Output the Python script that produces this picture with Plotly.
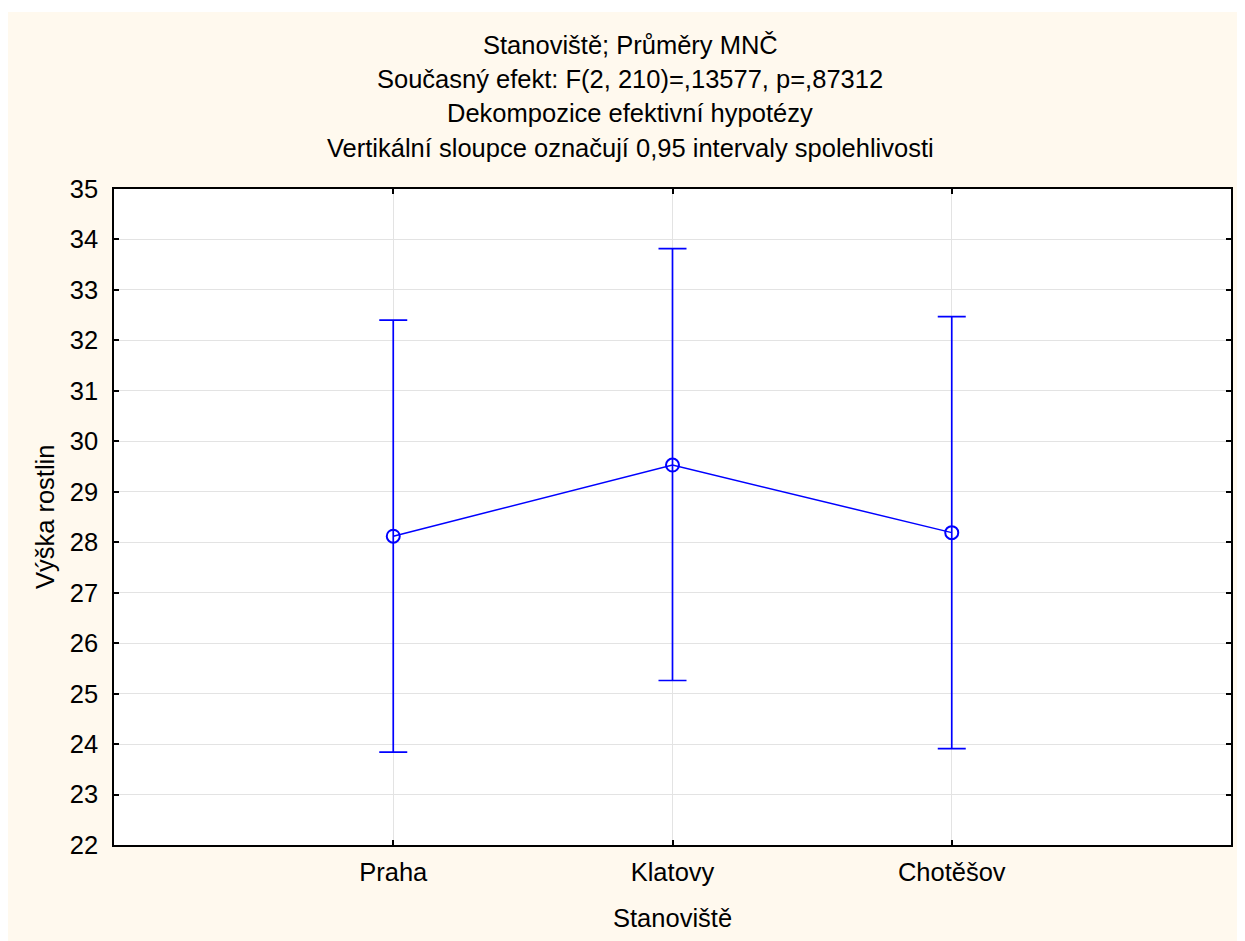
import plotly.graph_objects as go

categories = ["Praha", "Klatovy", "Chotěšov"]
means = [28.12, 29.53, 28.19]
upper = [32.40, 33.82, 32.47]
lower = [23.84, 25.26, 23.91]
y_ticks = list(range(22, 36))

title_lines = [
    "Stanoviště; Průměry MNČ",
    "Současný efekt: F(2, 210)=,13577, p=,87312",
    "Dekompozice efektivní hypotézy",
    "Vertikální sloupce označují 0,95 intervaly spolehlivosti",
]
x_title = "Stanoviště"
y_title = "Výška rostlin"

# figure coordinates (page is offset by the 8px body margin)
W, H = 1237, 933
L, R, T, B = 106, 12, 181, 96
pw, ph = W - L - R, H - T - B

BLUE = "#0000FF"
CREAM = "#FFF9EE"
FONT = "Liberation Sans, Arial, sans-serif"
FS = 25.5

fig = go.Figure()
fig.add_trace(go.Scatter(
    x=categories, y=means, mode="lines+markers",
    line=dict(color=BLUE, width=1.5),
    marker=dict(symbol="circle-open", size=13, color=BLUE, line=dict(width=2, color=BLUE)),
    error_y=dict(type="data", symmetric=False,
                 array=[u - m for u, m in zip(upper, means)],
                 arrayminus=[m - l for m, l in zip(means, lower)],
                 color=BLUE, thickness=1.7, width=14),
    showlegend=False,
))

def px_to_paper_x(px):
    return (px - L) / pw

def py_to_paper_y(py):
    return 1 - (py - T) / ph

# thin white strip above the cream panel
fig.add_shape(type="rect", xref="paper", yref="paper", layer="below",
              x0=px_to_paper_x(-5), x1=px_to_paper_x(W + 5), y0=py_to_paper_y(4), y1=py_to_paper_y(-5),
              fillcolor="white", line=dict(width=0))

title_y = [37, 71, 105, 140]
for txt, yy in zip(title_lines, title_y):
    fig.add_annotation(text=txt, xref="paper", yref="paper",
                       x=px_to_paper_x(623), y=py_to_paper_y(yy),
                       xanchor="center", yanchor="middle", showarrow=False,
                       font=dict(family=FONT, size=FS, color="black"))

fig.add_annotation(text=x_title, xref="paper", yref="paper",
                   x=px_to_paper_x(665), y=py_to_paper_y(910),
                   xanchor="center", yanchor="middle", showarrow=False,
                   font=dict(family=FONT, size=FS, color="black"))
fig.add_annotation(text=y_title, xref="paper", yref="paper", textangle=-90,
                   x=px_to_paper_x(37), y=0.5,
                   xanchor="center", yanchor="middle", showarrow=False,
                   font=dict(family=FONT, size=FS, color="black"))

axis_common = dict(
    showline=True, linecolor="black", linewidth=1.5, mirror="ticks",
    ticks="inside", ticklen=5, tickwidth=1.5, tickcolor="black",
    showgrid=True, gridcolor="#E3E3E3", gridwidth=1, zeroline=False,
    tickfont=dict(family=FONT, size=FS, color="black"),
)

fig.update_layout(
    width=W, height=H,
    margin=dict(l=L, r=R, t=T, b=B),
    paper_bgcolor=CREAM, plot_bgcolor="white",
    xaxis=dict(type="category", range=[-1, 3], tickvals=categories, ticklabelstandoff=4,
               **axis_common),
    yaxis=dict(range=[22, 35], tickvals=y_ticks, ticklabelstandoff=9,
               **axis_common),
)

fig.write_html("out.html")
